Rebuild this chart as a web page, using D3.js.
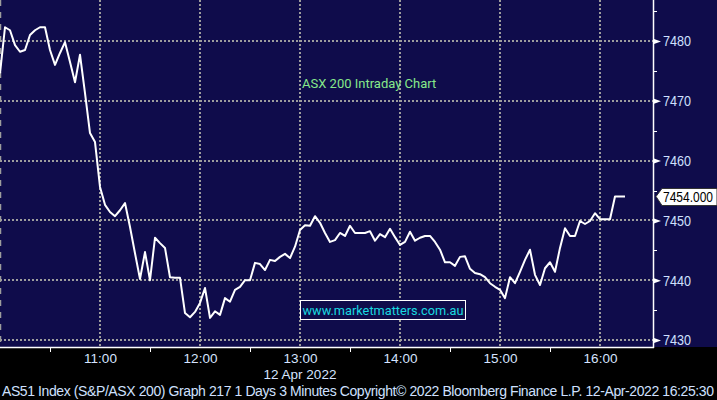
<!DOCTYPE html>
<html>
<head>
<meta charset="utf-8">
<script src="https://cdn.jsdelivr.net/npm/d3@7"></script>
<style>
body { margin: 0; background: #000; }
svg { display: block; }
</style>
</head>
<body>
<svg width="717" height="400"></svg>
<script>
// AS51 3 minute bars, 12 Apr 2022, starting 10:00
var prices = [7474.6, 7482.3, 7481.8, 7479.3, 7478.2, 7478.5, 7481.0, 7481.8, 7482.3, 7482.3,
    7478.5, 7476.0, 7478.0, 7479.8, 7476.5, 7473.1, 7477.7, 7471.3, 7464.6, 7463.1,
    7455.6, 7452.6, 7451.4, 7450.7, 7451.7, 7452.9, 7448.9, 7444.5, 7440.2, 7444.7,
    7440.0, 7447.1, 7446.2, 7445.4, 7440.5, 7440.4, 7440.4, 7434.5, 7433.8, 7434.7,
    7436.2, 7438.7, 7433.7, 7434.8, 7434.2, 7437.0, 7436.4, 7438.4, 7438.9, 7440.0,
    7440.0, 7442.9, 7442.7, 7441.7, 7443.4, 7443.2, 7443.9, 7444.4, 7443.7, 7445.6,
    7448.4, 7449.2, 7449.1, 7450.7, 7449.6, 7447.9, 7446.4, 7446.7, 7447.9, 7447.4,
    7449.1, 7447.9, 7447.9, 7447.9, 7448.2, 7446.6, 7447.7, 7447.2, 7448.6, 7447.2,
    7445.9, 7446.4, 7448.1, 7446.6, 7447.1, 7447.4, 7447.4, 7446.4, 7445.1, 7443.0,
    7443.0, 7442.4, 7443.9, 7444.0, 7441.9, 7441.2, 7441.0, 7440.5, 7439.5, 7438.9,
    7438.4, 7437.0, 7440.5, 7439.5, 7441.4, 7443.4, 7445.1, 7440.9, 7439.2, 7442.0,
    7443.0, 7441.4, 7445.4, 7448.7, 7447.4, 7447.4, 7449.9, 7449.4, 7449.9, 7451.2,
    7450.2, 7450.2, 7450.2, 7454.0, 7454.0, 7454.0];
var barMinutes = 3;
var startTime = new Date(2022, 3, 12, 10, 0);
var endTime = new Date(2022, 3, 12, 16, 31, 48);
var yTicks = [7430, 7440, 7450, 7460, 7470, 7480];
var yMinor = [7435, 7445, 7455, 7465, 7475, 7485];
var hourTicks = [11, 12, 13, 14, 15, 16];
var halfTicks = [10.5, 11.5, 12.5, 13.5, 14.5, 15.5];
var lastPrice = 7454.000;
var dateLabel = "12 Apr 2022";
var title = "ASX 200 Intraday Chart";
var site = "www.marketmatters.com.au";
var footer = "AS51 Index (S&P/ASX 200) Graph 217 1 Days 3 Minutes Copyright\u00a9 2022 Bloomberg Finance L.P. 12-Apr-2022 16:25:30";

var plotW = 653, plotH = 347;
var svg = d3.select('svg');
var navy = '#0f0c4b';
var labelFont = '"Liberation Sans", Arial, sans-serif';

function at(h) {
    return new Date(2022, 3, 12, Math.floor(h), Math.round((h % 1) * 60));
}

var x = d3.scaleTime().domain([startTime, endTime]).range([0, plotW]);
var y = d3.scaleLinear().domain([7430, 7480]).range([340, 41]);

svg.append('rect').attr('width', 717).attr('height', 400).attr('fill', '#000');
svg.append('rect').attr('width', 717).attr('height', plotH).attr('fill', navy);

// grid
var grid = svg.append('g')
    .attr('stroke', '#9d9d9d').attr('stroke-width', 2).attr('stroke-dasharray', '2,2');
grid.selectAll('line.h').data(yTicks).enter().append('line')
    .attr('x1', 0).attr('x2', plotW)
    .attr('y1', function(d) { return Math.round(y(d)); })
    .attr('y2', function(d) { return Math.round(y(d)); });
grid.selectAll('line.v').data(hourTicks).enter().append('line')
    .attr('y1', 0).attr('y2', plotH)
    .attr('x1', function(d) { return Math.round(x(at(d))); })
    .attr('x2', function(d) { return Math.round(x(at(d))); });
svg.append('line').attr('x1', 0.5).attr('x2', 0.5).attr('y1', 0).attr('y2', plotH)
    .attr('stroke', '#9d9d9d').attr('stroke-width', 1.5).attr('stroke-dasharray', '6,6');

// title and watermark
svg.append('text').attr('x', 302).attr('y', 88)
    .attr('font-family', 'Roboto, sans-serif').attr('font-size', 13)
    .attr('fill', '#86e88a').text(title);
svg.append('rect').attr('x', 300.5).attr('y', 300.5).attr('width', 165).attr('height', 19)
    .attr('fill', navy).attr('stroke', '#fff').attr('stroke-width', 1);
svg.append('text').attr('x', 302.5).attr('y', 315)
    .attr('font-family', 'Roboto, sans-serif').attr('font-size', 13)
    .attr('fill', '#19d9e0').attr('textLength', 161).attr('lengthAdjust', 'spacingAndGlyphs')
    .text(site);

// price line
var line = d3.line()
    .x(function(d, i) { return x(d3.timeMinute.offset(startTime, i * barMinutes)); })
    .y(function(d) { return y(d); });
svg.append('path').datum(prices).attr('d', line)
    .attr('fill', 'none').attr('stroke', '#fff').attr('stroke-width', 2)
    .attr('stroke-linejoin', 'round');

// axes lines
svg.append('line').attr('x1', plotW + 0.5).attr('x2', plotW + 0.5).attr('y1', 0).attr('y2', plotH + 1)
    .attr('stroke', '#fff').attr('stroke-width', 1.5);
svg.append('line').attr('x1', 0).attr('x2', plotW + 1).attr('y1', plotH + 0.5).attr('y2', plotH + 0.5)
    .attr('stroke', '#fff').attr('stroke-width', 1.5);

// right axis
var yAxis = d3.axisRight(y).tickValues(yTicks).tickSize(0).tickPadding(10)
    .tickFormat(d3.format('d'));
var ya = svg.append('g').attr('transform', 'translate(' + plotW + ',0)').call(yAxis);
ya.select('.domain').remove();
ya.selectAll('text').attr('fill', '#cfe0ff')
    .attr('font-family', labelFont).attr('font-size', 15)
    .attr('textLength', 28).attr('lengthAdjust', 'spacingAndGlyphs');
ya.selectAll('.tick').append('path').attr('d', 'M1,-2.5L8,0L1,2.5Z').attr('fill', '#fff');
svg.selectAll('line.ym').data(yMinor).enter().append('line')
    .attr('x1', plotW).attr('x2', plotW + 4)
    .attr('y1', function(d) { return Math.round(y(d)) + 0.5; })
    .attr('y2', function(d) { return Math.round(y(d)) + 0.5; })
    .attr('stroke', '#fff').attr('stroke-width', 1);

// bottom axis
var xAxis = d3.axisBottom(x).tickValues(hourTicks.map(at)).tickSize(0)
    .tickFormat(d3.timeFormat('%H:%M'));
var xa = svg.append('g').attr('transform', 'translate(0,' + plotH + ')').call(xAxis);
xa.select('.domain').remove();
xa.selectAll('text').attr('y', 16).attr('dy', 0).attr('fill', '#d6e4ff')
    .attr('font-family', labelFont).attr('font-size', 13.5);
svg.selectAll('line.xm').data(halfTicks).enter().append('line')
    .attr('x1', function(d) { return Math.round(x(at(d))) + 0.5; })
    .attr('x2', function(d) { return Math.round(x(at(d))) + 0.5; })
    .attr('y1', plotH).attr('y2', plotH + 5)
    .attr('stroke', '#fff').attr('stroke-width', 1);
svg.append('text').attr('x', x(at(13))).attr('y', 379).attr('text-anchor', 'middle')
    .attr('fill', '#d6e4ff').attr('font-family', labelFont)
    .attr('font-size', 13.5).text(dateLabel);

// last price tag
var ly = Math.round(y(lastPrice)) + 0.5;
svg.append('path')
    .attr('d', 'M656,' + ly + 'L662,' + (ly - 8) + 'L717,' + (ly - 8) + 'L717,' + (ly + 9) + 'L662,' + (ly + 9) + 'Z')
    .attr('fill', '#fff').attr('stroke', '#333').attr('stroke-width', 1);
svg.append('text').attr('x', 663).attr('y', ly + 5.5)
    .attr('font-family', labelFont).attr('font-size', 15).attr('fill', '#000')
    .attr('textLength', 50).attr('lengthAdjust', 'spacingAndGlyphs')
    .text(d3.format('.3f')(lastPrice));

// footer
svg.append('text').attr('x', 2).attr('y', 396)
    .attr('font-family', labelFont).attr('font-size', 14)
    .attr('fill', '#cfe0ff').attr('textLength', 712).attr('lengthAdjust', 'spacing')
    .text(footer);
</script>
</body>
</html>
